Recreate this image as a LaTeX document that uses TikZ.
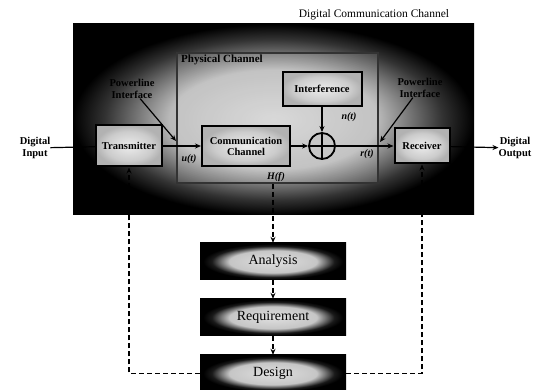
\documentclass[tikz,border=0pt]{standalone}
\usepackage{fontspec}
\setmainfont{Liberation Serif}
\usetikzlibrary{arrows.meta}
\pgfdeclareradialshading{darkglow}{\pgfpoint{0bp}{0bp}}{color(0bp)=(gray!35); color(13bp)=(gray!55); color(21bp)=(black!80); color(25bp)=(black); color(50bp)=(black)}
\pgfdeclareradialshading{boxglow}{\pgfpoint{0bp}{0bp}}{color(0bp)=(gray!15); color(18bp)=(gray!40); color(25bp)=(gray!60); color(50bp)=(gray!60)}
\pgfdeclareradialshading{stepglow}{\pgfpoint{0bp}{0bp}}{color(0bp)=(gray!25); color(15bp)=(gray!45); color(21bp)=(black!90); color(24bp)=(black); color(50bp)=(black)}

\begin{document}
\begin{tikzpicture}[
    x=1pt, y=-1pt,
    node distance=56pt,
    panel/.style={rectangle, shading=darkglow, minimum width=401pt, minimum height=191pt, inner sep=0pt},
    blk/.style={rectangle, draw=black, line width=2pt, shading=boxglow, inner sep=1pt, align=center, font=\fontsize{10.5}{11}\selectfont\bfseries},
    stepbox/.style={rectangle, shading=stepglow, minimum width=146pt, minimum height=37pt, inner sep=0pt, font=\fontsize{14}{16}\selectfont},
    tag/.style={align=center, inner sep=0pt, font=\fontsize{10.5}{11.5}\selectfont\bfseries},
    sig/.style={inner sep=0pt, font=\fontsize{10}{11}\selectfont\bfseries\itshape},
    arrow/.style={line width=1.2pt, -{Stealth[length=6pt, width=5pt]}},
    dasharrow/.style={line width=1.2pt, dash pattern=on 5pt off 3pt, -{Stealth[length=6pt, width=5pt]}}
]
\useasboundingbox (0,0) rectangle (539,390);

% Channel panels
\node[panel] (dcc) at (273.5,119.5) {};
\node[inner sep=0pt, font=\fontsize{11.5}{12}\selectfont] (title) at (374,15) {Digital Communication Channel};
\node[rectangle, draw=black!80, line width=1.8pt, fill=white, fill opacity=0.15, minimum width=201pt, minimum height=130pt] (phys) at (277.5,118) {};
\node[anchor=north west, inner sep=0pt, font=\fontsize{11}{12}\selectfont\bfseries] (physlbl) at (181,55) {Physical Channel};

% Blocks
\node[blk, minimum width=66pt, minimum height=41pt] (tx) at (129,146) {Transmitter};
\node[blk, minimum width=88pt, minimum height=40pt] (cc) at (246,146) {Communication\\Channel};
\node[blk, minimum width=79pt, minimum height=34pt] (intf) at (322,89) {Interference};
\node[circle, draw=black, line width=1.8pt, fill=gray!45, minimum size=26pt, inner sep=0pt] (sum) at (322,146) {};
\draw[line width=1.5pt] (sum.north) -- (sum.south) (sum.west) -- (sum.east);
\node[blk, minimum width=55pt, minimum height=35pt] (rx) at (422,146) {Receiver};

% Labels
\node[tag] (din) at (35,148) {Digital\\Input};
\node[tag] (dout) at (515,148) {Digital\\Output};
\node[tag] (pli) at (132,89) {Powerline\\Interface};
\node[tag] (plo) at (420,88) {Powerline\\Interface};
\coordinate (plitip) at (176,141);
\coordinate (plotip) at (380,142);
\node[sig] (ut) at (189,159) {u(t)};
\node[sig] (nt) at (349,117) {n(t)};
\node[sig] (rt) at (367,154) {r(t)};
\node[sig] (hf) at (276,177) {H(f)};

% Steps
\node[stepbox] (ana) at (273,261.5) {Analysis};
\node[stepbox, below of=ana] (req) {Requirement};
\node[stepbox, below of=req] (des) {Design};

% Arrows
\draw[line width=1.2pt] (din) -- (tx);
\draw[arrow] (tx) -- (cc);
\draw[arrow] (cc) -- (sum);
\draw[arrow] (intf) -- (sum);
\draw[arrow] (sum) -- (rx);
\draw[arrow] (rx) -- (dout);
\draw[arrow] (pli) -- (plitip);
\draw[arrow] (plo) -- (plotip);

% Dashed loop
\draw[dasharrow] (ana.north |- phys.south) -- (ana);
\draw[dasharrow] (ana) -- (req);
\draw[dasharrow] (req) -- (des);
\draw[dasharrow] (des.west) -| (tx.south);
\draw[dasharrow] (des.east) -| (rx.south);

\end{tikzpicture}
\end{document}
